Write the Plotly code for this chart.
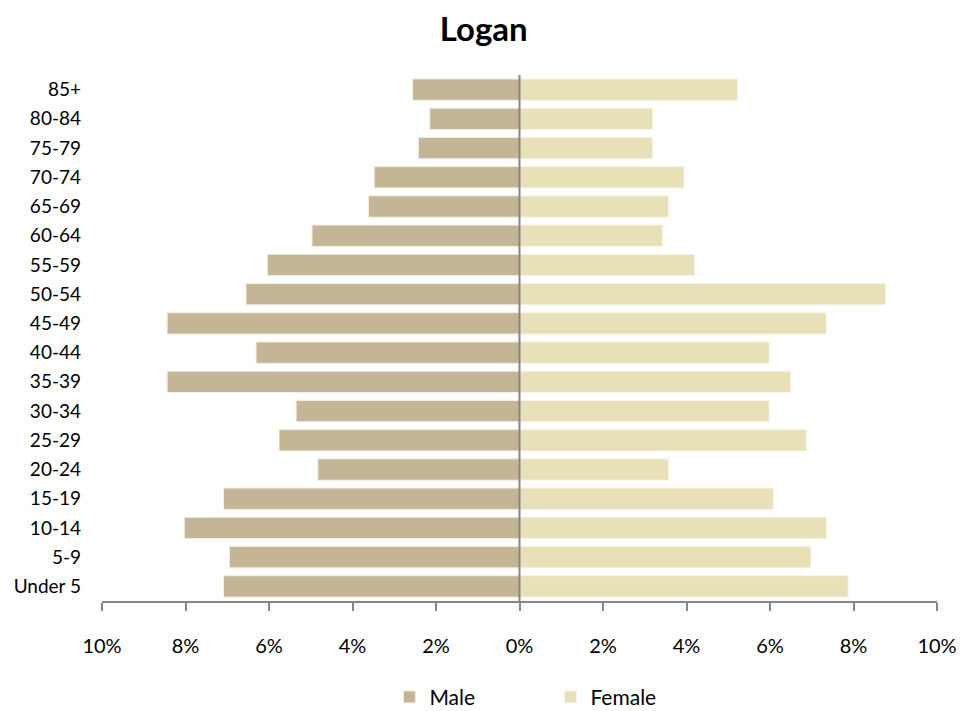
import plotly.graph_objects as go

age_groups = ["Under 5", "5-9", "10-14", "15-19", "20-24", "25-29", "30-34", "35-39",
              "40-44", "45-49", "50-54", "55-59", "60-64", "65-69", "70-74", "75-79",
              "80-84", "85+"]
male_pct = [7.09, 6.95, 8.03, 7.09, 4.83, 5.76, 5.35, 8.44,
            6.31, 8.44, 6.55, 6.04, 4.97, 3.62, 3.48, 2.42, 2.15, 2.56]
female_pct = [7.87, 6.98, 7.35, 6.08, 3.57, 6.87, 5.98, 6.49,
              5.98, 7.35, 8.77, 4.19, 3.43, 3.57, 3.94, 3.19, 3.19, 5.22]
tick_values = [-10, -8, -6, -4, -2, 0, 2, 4, 6, 8, 10]
tick_labels = ["10%", "8%", "6%", "4%", "2%", "0%", "2%", "4%", "6%", "8%", "10%"]

FONT = "Lato"
MALE_C = "#C4B594"
FEMALE_C = "#E8E1B8"
AXIS_C = "#868686"

fig = go.Figure()
fig.add_trace(go.Bar(
    y=age_groups, x=[-v for v in male_pct], name="Male", orientation="h",
    marker=dict(color=MALE_C, line=dict(color="#F3EFE6", width=1)),
))
fig.add_trace(go.Bar(
    y=age_groups, x=female_pct, name="Female", orientation="h",
    marker=dict(color=FEMALE_C, line=dict(color="#F7F4E6", width=1)),
))

fig.add_shape(type="line", xref="x", yref="paper", x0=0, x1=0, y0=0, y1=1,
              line=dict(color=AXIS_C, width=2), layer="above")

fig.update_layout(
    width=971, height=703,
    margin=dict(l=94, r=42, t=67, b=110, autoexpand=False),
    paper_bgcolor="white", plot_bgcolor="white",
    barmode="relative", bargap=0.27,
    font=dict(family=FONT, color="#000000"),
    title=dict(text="<b>Logan</b>", x=0.490, xanchor="center", y=0.970, yanchor="middle",
               font=dict(size=33, family=FONT, color="#000000")),
    showlegend=True,
    legend=dict(orientation="h", x=0.537, xanchor="center", y=-0.183, yanchor="middle",
                font=dict(size=21, family=FONT), entrywidth=116, traceorder="normal"),
    xaxis=dict(range=[-10, 10], tickvals=tick_values, ticktext=tick_labels,
               showgrid=False, zeroline=False, showline=True, linecolor=AXIS_C, linewidth=2,
               ticks="outside", ticklen=8, tickcolor=AXIS_C, tickwidth=2, automargin=False,
               ticklabelstandoff=18, tickfont=dict(size=20, family=FONT)),
    yaxis=dict(showgrid=False, zeroline=False, showline=False, ticks="", automargin=False,
               ticklabelstandoff=20, tickfont=dict(size=19, family=FONT),
               categoryorder="array", categoryarray=age_groups),
)

fig.write_html("out.html")
